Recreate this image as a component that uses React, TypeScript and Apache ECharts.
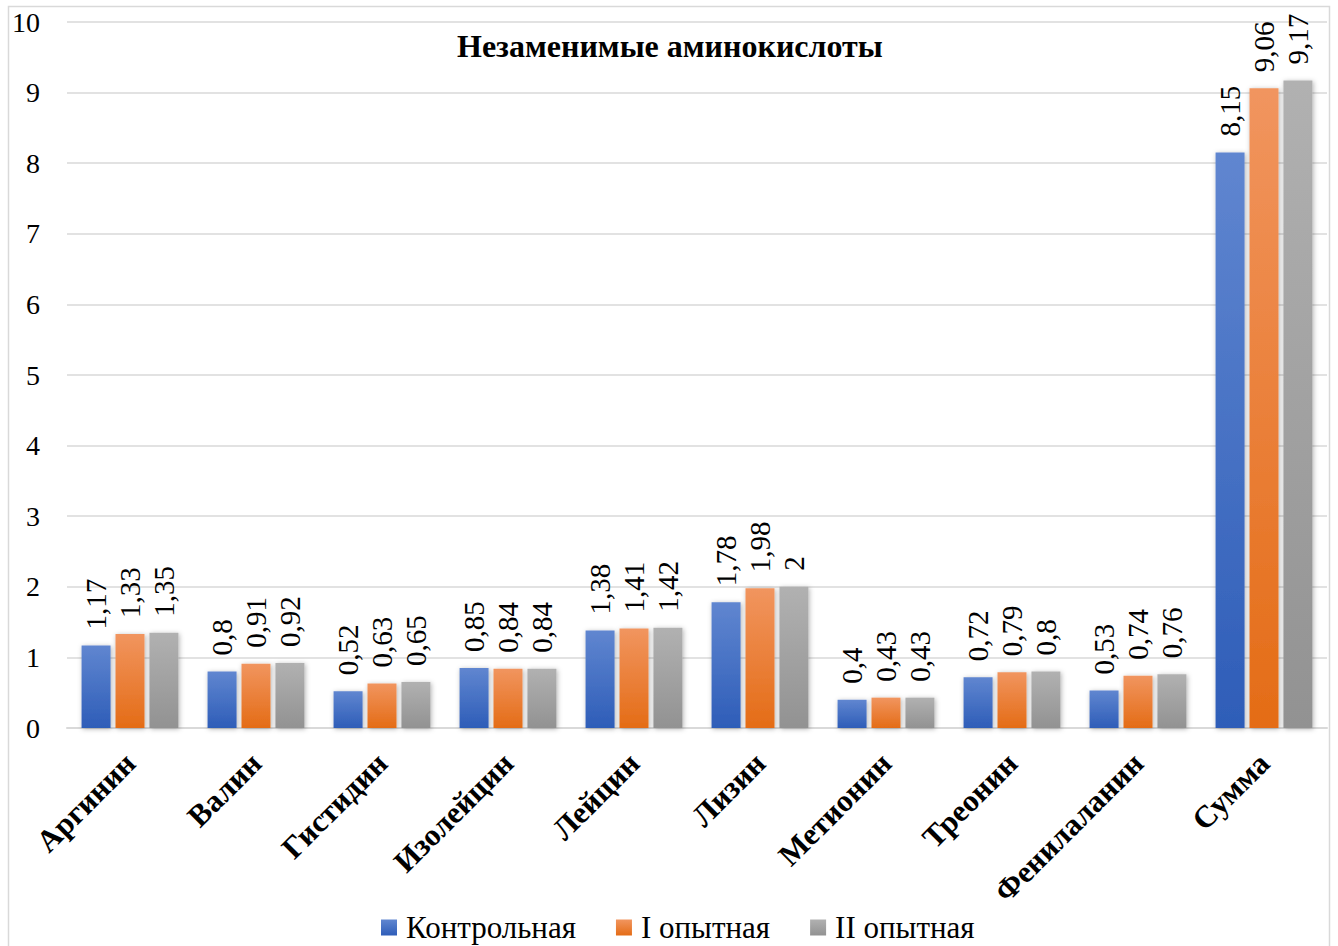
import React, { useEffect, useRef } from "react";
import * as echarts from "echarts";

const categories = ["Аргинин", "Валин", "Гистидин", "Изолейцин", "Лейцин", "Лизин", "Метионин", "Треонин", "Фенилаланин", "Сумма"];
const seriesNames = ["Контрольная", "I опытная", "II опытная"];
const control = [1.17, 0.8, 0.52, 0.85, 1.38, 1.78, 0.4, 0.72, 0.53, 8.15];
const exp1 = [1.33, 0.91, 0.63, 0.84, 1.41, 1.98, 0.43, 0.79, 0.74, 9.06];
const exp2 = [1.35, 0.92, 0.65, 0.84, 1.42, 2, 0.43, 0.8, 0.76, 9.17];
const title = "Незаменимые аминокислоты";

const FONT = "Liberation Serif";

const grad = (top: string, bottom: string) =>
  new echarts.graphic.LinearGradient(0, 0, 0, 1, [
    { offset: 0, color: top },
    { offset: 1, color: bottom },
  ]);

export default function App() {
  const ref = useRef<HTMLDivElement>(null);
  useEffect(() => {
    if (!ref.current) return;
    const chart = echarts.init(ref.current, null, { renderer: "svg" });
    const colors = [
      ["#6086D0", "#2E5DB8"],
      ["#F1955F", "#E46C16"],
      ["#B1B1B1", "#929292"],
    ];
    const data = [control, exp1, exp2];
    chart.setOption({
      animation: false,
      backgroundColor: "#fff",
      textStyle: { fontFamily: FONT },
      title: {
        text: title,
        left: 457,
        top: 30,
        padding: 0,
        textStyle: { fontFamily: FONT, fontSize: 32, fontWeight: "bold", color: "#000" },
      },
      legend: {
        data: seriesNames,
        left: 381,
        top: 912,
        padding: 0,
        itemWidth: 16,
        itemHeight: 16,
        itemGap: 40,
        icon: "rect",
        textStyle: { fontFamily: FONT, fontSize: 31, color: "#000", padding: [0, 0, 0, 4] },
      },
      grid: { left: 67, right: 11, top: 22, bottom: 218, containLabel: false },
      xAxis: {
        type: "category",
        data: categories,
        axisLine: { lineStyle: { color: "#d9d9d9", width: 2 } },
        axisTick: { show: false },
        axisLabel: {
          rotate: 45,
          interval: 0,
          margin: 30,
          fontFamily: FONT,
          fontSize: 31,
          fontWeight: "bold",
          color: "#000",
        },
      },
      yAxis: {
        type: "value",
        min: 0,
        max: 10,
        interval: 1,
        axisLine: { show: false },
        axisTick: { show: false },
        splitLine: { lineStyle: { color: "#d9d9d9", width: 1.5 } },
        axisLabel: { fontFamily: FONT, fontSize: 28, color: "#000", margin: 27 },
      },
      series: seriesNames.map((name, i) => ({
        name,
        type: "bar",
        data: data[i],
        barWidth: 29,
        barGap: "17%",
        itemStyle: {
          color: grad(colors[i][0], colors[i][1]),
          shadowBlur: 5,
          shadowColor: "rgba(0,0,0,0.3)",
          shadowOffsetX: 1,
          shadowOffsetY: 1,
        },
        label: {
          show: true,
          position: "top",
          rotate: 90,
          align: "left",
          verticalAlign: "middle",
          distance: 16,
          fontFamily: FONT,
          fontSize: 29,
          color: "#000",
          formatter: (p: any) => String(p.value).replace(".", ","),
        },
      })),
      graphic: [
        {
          type: "rect",
          shape: { x: 8.5, y: 6.5, width: 1321, height: 960 },
          style: { fill: "none", stroke: "#d9d9d9", lineWidth: 1.5 },
          silent: true,
        },
      ],
    });
    return () => chart.dispose();
  }, []);
  return (
    <div
      ref={ref}
      style={{ position: "absolute", left: 0, top: 0, width: 1338, height: 946 }}
    />
  );
}
